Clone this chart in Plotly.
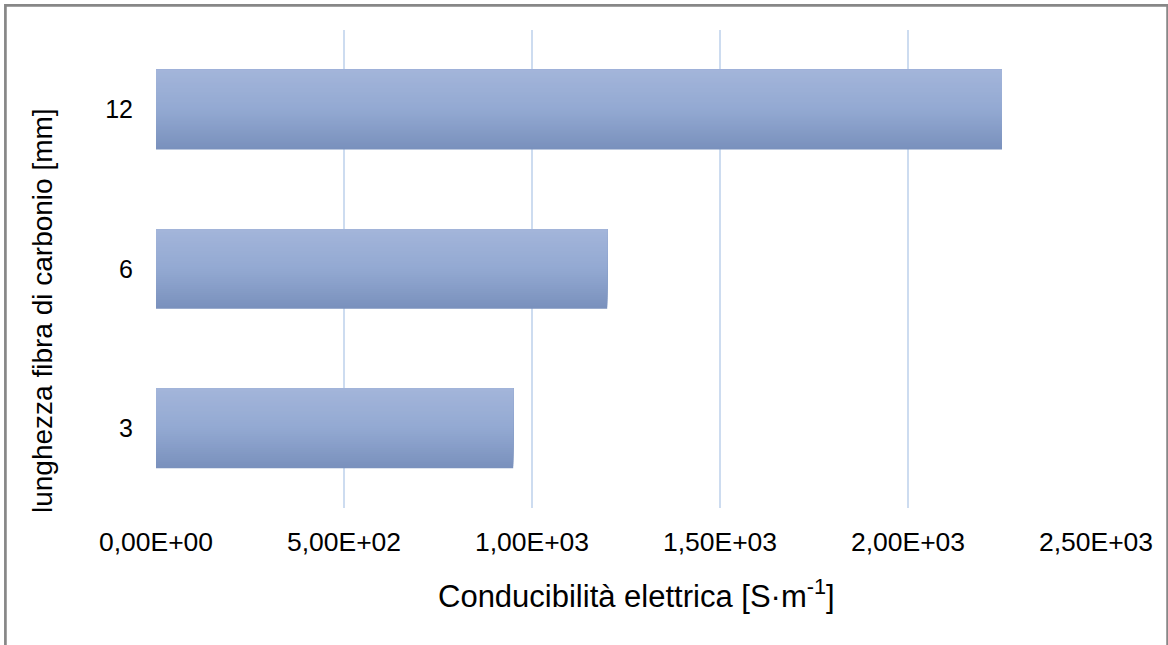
import plotly.graph_objects as go

# Fibre length categories (bottom to top) and measured conductivity
lengths_mm = ["3", "6", "12"]
conductivity = [950, 1200, 2250]

# Axis ticks for the conductivity scale
x_tickvals = [0, 500, 1000, 1500, 2000, 2500]
x_ticktext = ["0,00E+00", "5,00E+02", "1,00E+03", "1,50E+03", "2,00E+03", "2,50E+03"]

W, H = 1168, 645
M_L, M_R, M_T, M_B = 156, 72, 30, 137
PW, PH = W - M_L - M_R, H - M_T - M_B

BAR_WIDTH = 0.5
N_SLICES = 40
C_TOP = (163, 181, 218)
C_MID = (147, 169, 210)
C_BOT = (121, 144, 188)


def blend(t):
    # t = 0 at the bottom edge of a bar, 1 at the top edge
    if t < 0.5:
        a, b, u = C_BOT, C_MID, t / 0.5
    else:
        a, b, u = C_MID, C_TOP, (t - 0.5) / 0.5
    r, g, bl = (round(a[k] + (b[k] - a[k]) * u) for k in range(3))
    return f"rgb({r},{g},{bl})"


fig = go.Figure()

# Each bar is layered from the bottom up: every layer starts a little higher
# and reaches the top edge, so the stack shades from dark to light without gaps
slice_w = BAR_WIDTH / N_SLICES
for i in range(N_SLICES):
    start = -BAR_WIDTH / 2 + i * slice_w
    fig.add_trace(go.Bar(
        x=conductivity,
        y=lengths_mm,
        orientation="h",
        width=BAR_WIDTH / 2 - start,
        offset=start,
        marker=dict(color=blend((i + 0.5) / N_SLICES), line=dict(width=0)),
        showlegend=False,
        hovertemplate="%{y} mm: %{x}<extra></extra>",
    ))


def px_x(px):
    return (px - M_L) / PW


def px_y(py):
    return (H - M_B - py) / PH


fig.update_layout(
    width=W, height=H,
    margin=dict(l=M_L, r=M_R, t=M_T, b=M_B, pad=0),
    paper_bgcolor="white",
    plot_bgcolor="white",
    barmode="overlay",
    font=dict(family="Liberation Sans, Arial, sans-serif", color="#000000", size=26),
    xaxis=dict(
        range=[0, 2500],
        tickvals=x_tickvals,
        ticktext=x_ticktext,
        showgrid=True,
        gridcolor="#cddcf0",
        gridwidth=1.6,
        zeroline=False,
        showline=False,
        ticks="",
        ticklabelstandoff=15,
        tickfont=dict(size=26.5),
    ),
    yaxis=dict(
        type="category",
        categoryorder="array",
        categoryarray=lengths_mm,
        showgrid=False,
        zeroline=False,
        showline=False,
        ticks="",
        ticklabelstandoff=22,
        tickfont=dict(size=25),
    ),
    annotations=[
        dict(
            text="Conducibilità elettrica [S·m<sup>-1</sup>]",
            xref="paper", yref="paper",
            x=px_x(636), y=px_y(594),
            xanchor="center", yanchor="middle",
            showarrow=False,
            font=dict(size=31),
        ),
        dict(
            text="lunghezza fibra di carbonio [mm]",
            xref="paper", yref="paper",
            x=px_x(42), y=px_y(311),
            xanchor="center", yanchor="middle",
            textangle=-90,
            showarrow=False,
            font=dict(size=28),
        ),
    ],
    shapes=[
        dict(
            type="rect",
            xref="paper", yref="paper",
            x0=px_x(5.4), x1=px_x(1167.6),
            y0=px_y(5.4), y1=px_y(700),
            line=dict(color="#878787", width=2.7),
            fillcolor="rgba(0,0,0,0)",
            layer="above",
        )
    ],
)

fig.write_html("out.html")
